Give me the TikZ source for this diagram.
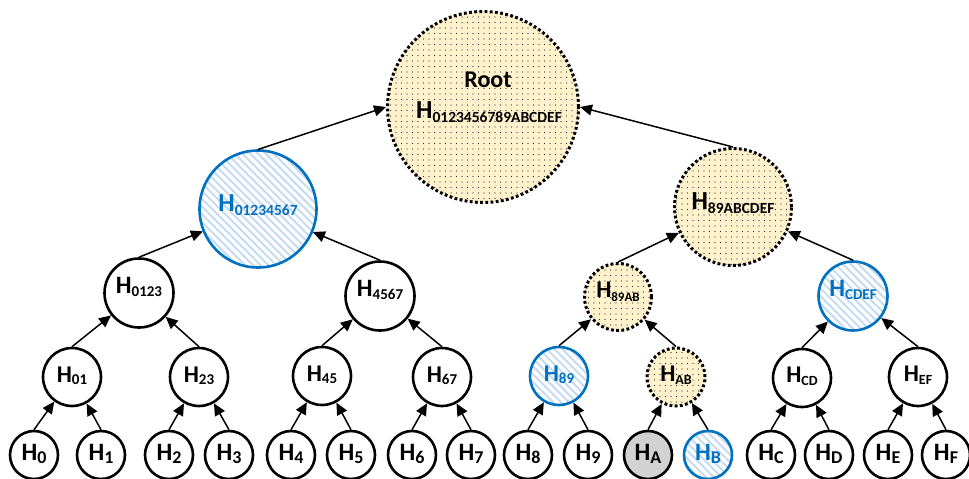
\documentclass[tikz,border=0pt]{standalone}
\usepackage{fontspec}
\setmainfont{Carlito}
\usepackage{graphicx}
\usetikzlibrary{arrows.meta,patterns.meta}

\definecolor{nodeblue}{HTML}{0070C0}
\definecolor{hatchblue}{HTML}{C6DBF1}
\definecolor{cream}{HTML}{FFF2CC}
\definecolor{dotgray}{HTML}{2E2E2E}
\definecolor{leafgray}{HTML}{D2D2D2}

% H with a lowered index: H size, index size, drop, index
\newcommand\hsub[4]{{\fontsize{#1}{#1}\selectfont H}\raisebox{-#3}{\fontsize{#2}{#2}\selectfont #4}}
% label whose baseline sits #1 below the node centre
\newcommand\lab[5]{\raisebox{-#1}[0pt][0pt]{\hsub{#2}{#3}{#4}{#5}}}
\newcommand\leaflab[1]{\lab{5pt}{25}{18}{3pt}{#1}}
\newcommand\twolab[1]{\lab{5pt}{24}{15}{2pt}{#1}}
\newcommand\threelab[1]{\lab{0pt}{25}{15}{3pt}{#1}}
\newcommand\fourlab[1]{\lab{2pt}{26}{15.5}{4pt}{#1}}

\tikzset{
  hnode/.style={circle, inner sep=0pt, line width=2.6pt, draw=black, fill=white,
    font=\bfseries, text=black},
  leaf/.style={hnode, minimum size=48pt},
  lvtwo/.style={hnode, minimum size=58pt},
  lvthree/.style={hnode, minimum size=69pt},
  lvfour/.style={hnode, minimum size=117pt},
  hatched/.style={draw=nodeblue, text=nodeblue, fill=none,
    pattern={Lines[angle=-45, distance=5.5pt, line width=2pt]}, pattern color=hatchblue},
  dotted fill/.style={fill=none, preaction={fill=cream},
    pattern={Dots[distance=5.5pt, radius=0.6pt]}, pattern color=dotgray,
    line width=3pt, dash pattern=on 2.8pt off 2.4pt},
  greyed/.style={fill=leafgray},
  arr/.style={line width=1.5pt, -{Triangle[length=12pt, width=11pt]}}
}

\begin{document}
\begin{tikzpicture}[x=1pt, y=-1pt]
\useasboundingbox (0,0) rectangle (969,479);

% root
\node[hnode, dotted fill, minimum size=191pt] (root) at (483,107) {};
\node[font=\bfseries\fontsize{24}{24}\selectfont, anchor=base] (roottitle) at (488,87) {Root};
\node[font=\bfseries, anchor=base] (roothash) at (489,118) {\hsub{26}{15.5}{4pt}{0123456789ABCDEF}};

% level 4
\node[lvfour, hatched] (h01234567) at (258,209) {\fourlab{01234567}};
\node[lvfour, dotted fill] (h89ABCDEF) at (733,207) {\fourlab{89ABCDEF}};

% level 3
\node[lvthree] (h0123) at (139,293) {\threelab{0123}};
\node[lvthree] (h4567) at (380,296) {\threelab{4567}};
\node[lvthree, dotted fill, minimum size=67pt] (h89AB) at (618,297) {\lab{0pt}{24}{13}{4pt}{89AB}};
\node[lvthree, hatched] (hCDEF) at (853,296) {\threelab{CDEF}};

% level 2
\node[lvtwo] (h01) at (72,377) {\twolab{01}};
\node[lvtwo] (h23) at (199,377) {\twolab{23}};
\node[lvtwo] (h45) at (322,376) {\twolab{45}};
\node[lvtwo] (h67) at (442,377) {\twolab{67}};
\node[lvtwo, hatched] (h89) at (559,376) {\twolab{89}};
\node[lvtwo, dotted fill] (hAB) at (676,377) {\lab{4pt}{24}{14}{3pt}{AB}};
\node[lvtwo] (hCD) at (802,378) {\lab{4pt}{24}{14}{3pt}{CD}};
\node[lvtwo] (hEF) at (918,377) {\lab{4pt}{24}{14}{3pt}{EF}};

% leaves
\node[leaf] (h0) at (34,455) {\leaflab{0}};
\node[leaf] (h1) at (101,455) {\leaflab{1}};
\node[leaf] (h2) at (169,455) {\leaflab{2}};
\node[leaf] (h3) at (229,455) {\leaflab{3}};
\node[leaf] (h4) at (291,455) {\leaflab{4}};
\node[leaf] (h5) at (351,455) {\leaflab{5}};
\node[leaf] (h6) at (412,455) {\leaflab{6}};
\node[leaf] (h7) at (471,455) {\leaflab{7}};
\node[leaf] (h8) at (528,455) {\leaflab{8}};
\node[leaf] (h9) at (588,455) {\leaflab{9}};
\node[leaf, greyed] (hA) at (648,455) {\leaflab{A}};
\node[leaf, hatched] (hB) at (708,455) {\leaflab{B}};
\node[leaf] (hC) at (771,455) {\leaflab{C}};
\node[leaf] (hD) at (829,455) {\leaflab{D}};
\node[leaf] (hE) at (888,455) {\leaflab{E}};
\node[leaf] (hF) at (946,455) {\leaflab{F}};

% hash links, child to parent
\foreach \c/\p in {h0/h01, h1/h01, h2/h23, h3/h23, h4/h45, h5/h45, h6/h67, h7/h67,
                   h8/h89, h9/h89, hA/hAB, hB/hAB, hC/hCD, hD/hCD, hE/hEF, hF/hEF,
                   h01/h0123, h23/h0123, h45/h4567, h67/h4567,
                   h89/h89AB, hAB/h89AB, hCD/hCDEF, hEF/hCDEF,
                   h0123/h01234567, h4567/h01234567, h89AB/h89ABCDEF, hCDEF/h89ABCDEF}
  \draw[arr] (\c.north) -- (\p);
\draw[arr] (h01234567.north) -- (root.west);
\draw[arr] (h89ABCDEF.north) -- (root.east);
\end{tikzpicture}
\end{document}
